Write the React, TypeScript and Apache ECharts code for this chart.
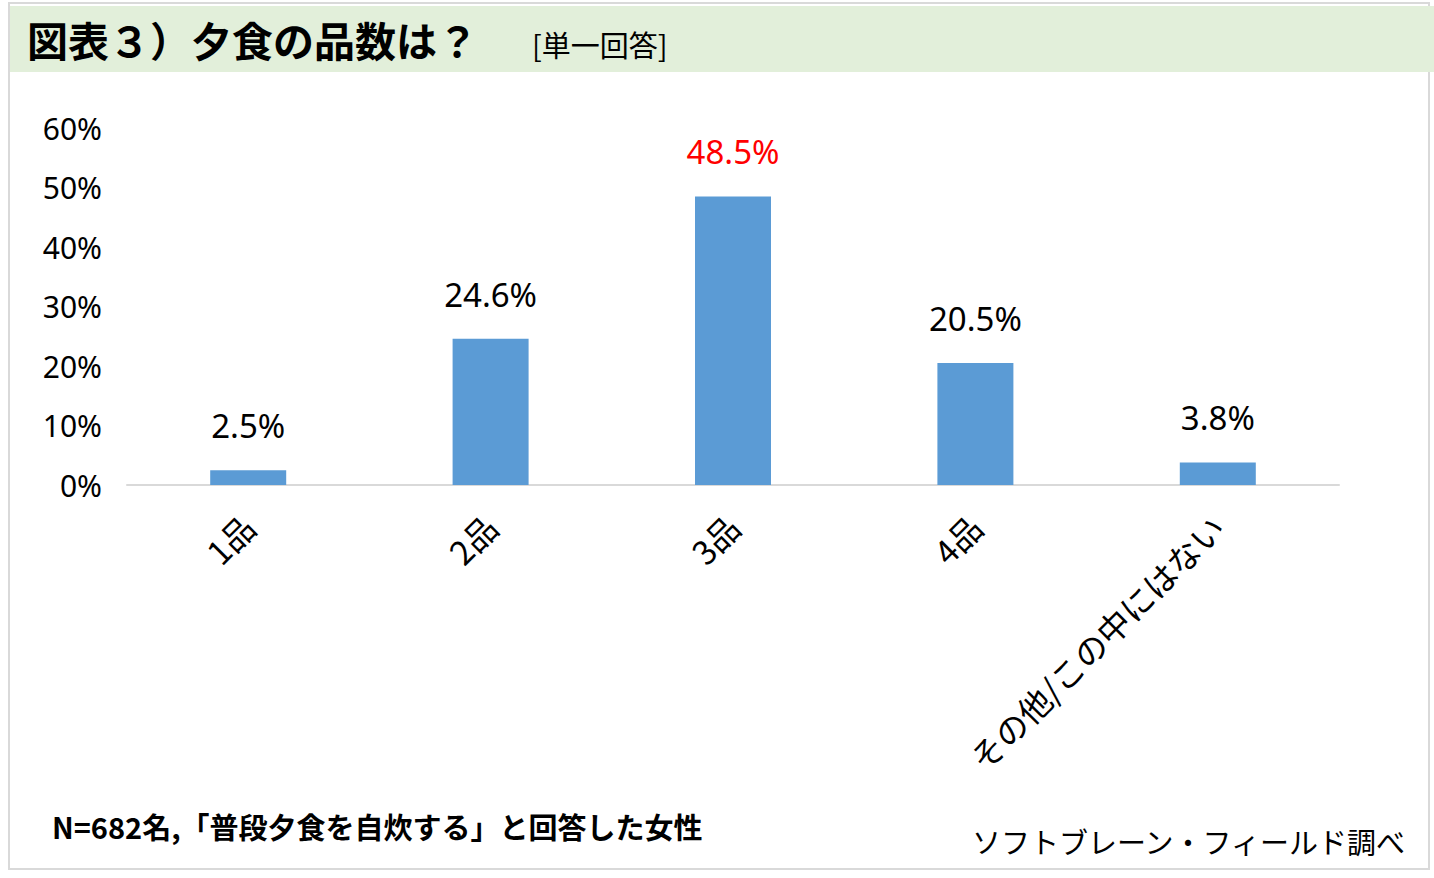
import React, { useEffect, useRef } from "react";
import * as echarts from "echarts";

// 夕食の品数（単一回答）
const categories = ["1品", "2品", "3品", "4品", "その他/この中にはない"];
const shares = [2.5, 24.6, 48.5, 20.5, 3.8];
const yTicks = { min: 0, max: 60, interval: 10 };
const highlightIndex = 2;

const titleText = "図表３）夕食の品数は？";
const answerType = "[単一回答]";
const noteText = "N=682名,「普段夕食を自炊する」と回答した女性";
const sourceText = "ソフトブレーン・フィールド調べ";

const JP = '"Noto Sans CJK JP", "Noto Sans", sans-serif';
const NUM = '"Noto Sans", "Noto Sans CJK JP", sans-serif';

export default function App() {
  const ref = useRef<HTMLDivElement>(null);

  useEffect(() => {
    if (!ref.current) return;
    const chart = echarts.init(ref.current, undefined, { renderer: "svg" });
    chart.setOption({
      animation: false,
      backgroundColor: "#ffffff",
      graphic: [
        {
          type: "rect",
          shape: { x: 9, y: 3, width: 1420, height: 866 },
          style: { fill: "none", stroke: "#D9D9D9", lineWidth: 2 },
          z: 0,
        },
        {
          type: "rect",
          shape: { x: 10, y: 6, width: 1424, height: 66 },
          style: { fill: "#E2EFDA" },
          z: 1,
        },
        {
          type: "text",
          x: 27,
          y: 39,
          style: {
            text: titleText,
            font: `bold 41px ${JP}`,
            fill: "#000",
            verticalAlign: "middle",
          },
          z: 2,
        },
        {
          type: "text",
          x: 532,
          y: 44,
          style: {
            text: answerType,
            font: `29px ${JP}`,
            fill: "#000",
            verticalAlign: "middle",
          },
          z: 2,
        },
        {
          type: "text",
          x: 52,
          y: 826,
          style: {
            text: noteText,
            font: `bold 29px ${JP}`,
            fill: "#000",
            verticalAlign: "middle",
          },
          z: 2,
        },
        {
          type: "text",
          x: 1405,
          y: 841,
          style: {
            text: sourceText,
            font: `29px ${JP}`,
            fill: "#000",
            align: "right",
            verticalAlign: "middle",
          },
          z: 2,
        },
      ],
      grid: { left: 127, right: 95, top: 128, bottom: 393 },
      xAxis: {
        type: "category",
        data: categories,
        axisLine: { lineStyle: { color: "#D9D9D9", width: 2 } },
        axisTick: { show: false },
        axisLabel: {
          rotate: 45,
          margin: 36,
          fontSize: 33,
          fontFamily: JP,
          color: "#000",
          interval: 0,
        },
      },
      yAxis: {
        type: "value",
        min: yTicks.min,
        max: yTicks.max,
        interval: yTicks.interval,
        axisLine: { show: false },
        axisTick: { show: false },
        splitLine: { show: false },
        axisLabel: {
          formatter: "{value}%",
          fontSize: 30,
          fontFamily: NUM,
          color: "#000",
          margin: 25,
        },
      },
      series: [
        {
          type: "bar",
          barWidth: 76,
          data: shares.map((v, i) => ({
            value: v,
            label: i === highlightIndex ? { color: "#FF0000" } : undefined,
          })),
          itemStyle: { color: "#5B9BD5" },
          label: {
            show: true,
            position: "top",
            distance: 28,
            fontSize: 33,
            fontFamily: NUM,
            color: "#000",
            formatter: (p: any) => `${Number(p.value).toFixed(1)}%`,
          },
        },
      ],
    });
    return () => chart.dispose();
  }, []);

  return (
    <div
      ref={ref}
      style={{ position: "fixed", left: 0, top: 0, width: 1434, height: 878 }}
    />
  );
}
